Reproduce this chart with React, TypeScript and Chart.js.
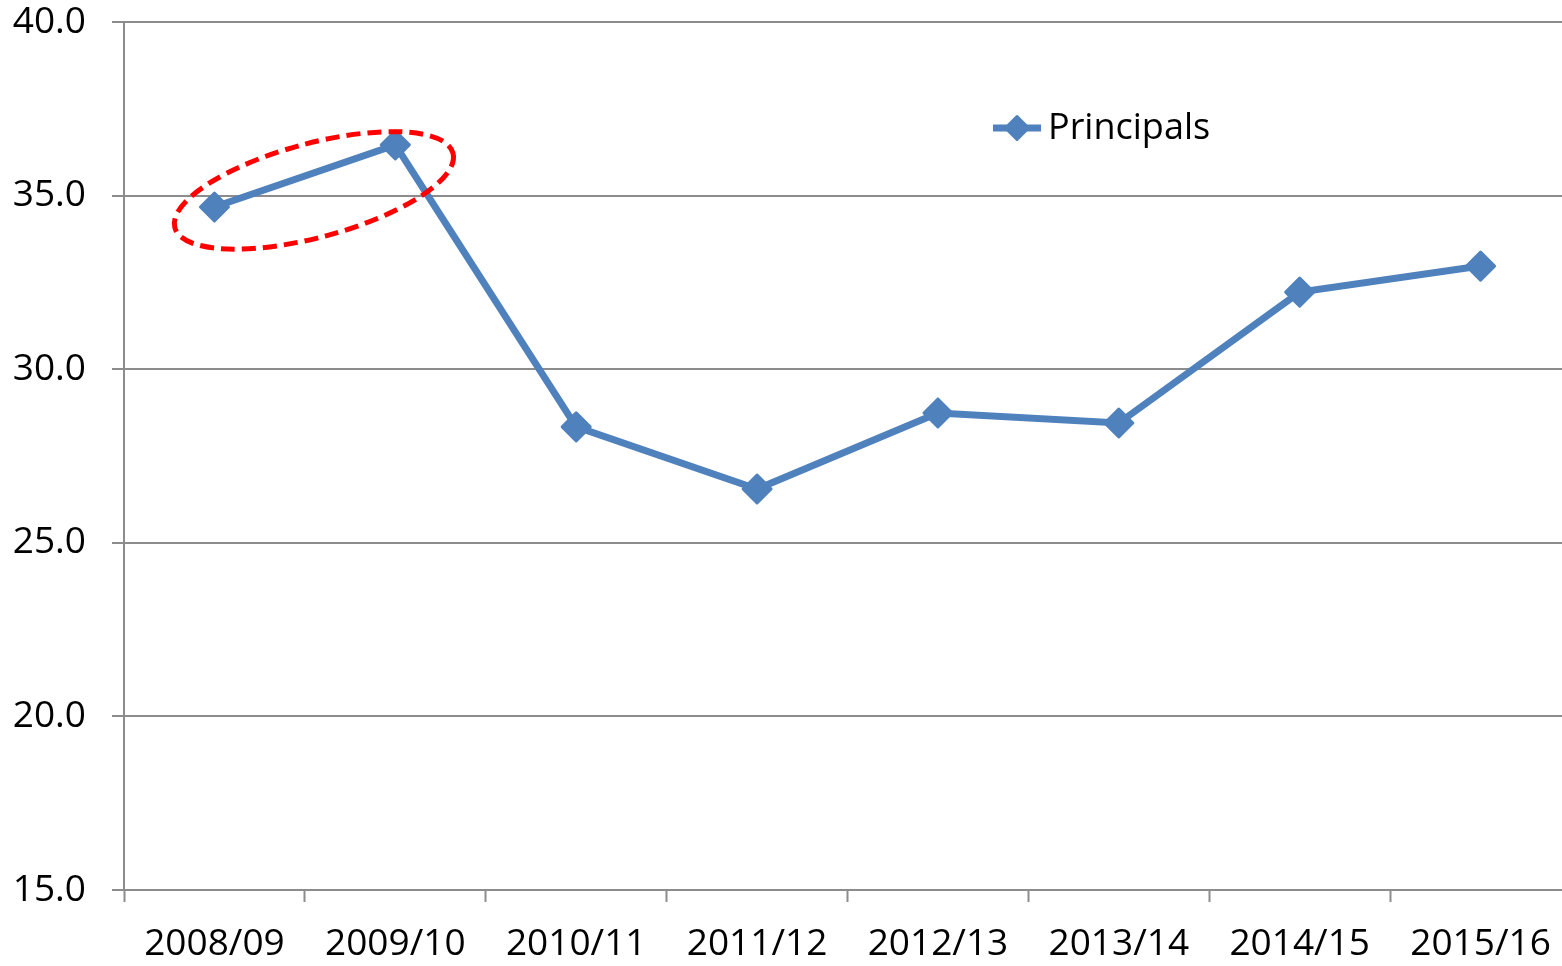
import React, { useEffect, useRef } from "react";
import { Chart, registerables } from "chart.js";

Chart.register(...registerables);

const categories = ["2008/09", "2009/10", "2010/11", "2011/12", "2012/13", "2013/14", "2014/15", "2015/16"];
const principals = [34.67, 36.46, 28.34, 26.55, 28.74, 28.45, 32.22, 32.97];
const seriesLabel = "Principals";
const yMin = 15;
const yMax = 40;
const yStep = 5;

const BLUE = "#4F81BD";
const GRID = "#8C8C8C";
const FONT = "'Open Sans', 'DejaVu Sans', sans-serif";
const FONT_SIZE = 37;

const roundJoinPlugin = {
  id: "roundJoin",
  beforeDatasetDraw(chart: any) {
    chart.ctx.lineJoin = "round";
  },
  afterDatasetDraw(chart: any) {
    chart.ctx.lineJoin = "miter";
  },
};

// red dashed ellipse highlighting the first two years
const highlightPlugin = {
  id: "highlight",
  afterDatasetsDraw(chart: any) {
    const { ctx, scales } = chart;
    const cx = scales.x.getPixelForValue(0.55);
    const cy = scales.y.getPixelForValue(35.15);
    ctx.save();
    ctx.beginPath();
    ctx.ellipse(cx, cy, 144, 47, (-15 * Math.PI) / 180, 0, Math.PI * 2);
    ctx.strokeStyle = "#FF0000";
    ctx.lineWidth = 5;
    ctx.setLineDash([14, 7]);
    ctx.stroke();
    ctx.restore();
  },
};

const legendPlugin = {
  id: "customLegend",
  afterDraw(chart: any) {
    const { ctx } = chart;
    const ds = chart.data.datasets[0];
    const y = 128;
    ctx.save();
    ctx.strokeStyle = ds.borderColor;
    ctx.lineWidth = 7;
    ctx.beginPath();
    ctx.moveTo(993, y);
    ctx.lineTo(1041, y);
    ctx.stroke();
    ctx.fillStyle = ds.borderColor;
    ctx.lineJoin = "round";
    ctx.lineWidth = 3;
    const r = 11.5;
    const x = 1017;
    ctx.beginPath();
    ctx.moveTo(x - r, y);
    ctx.lineTo(x, y - r);
    ctx.lineTo(x + r, y);
    ctx.lineTo(x, y + r);
    ctx.closePath();
    ctx.fill();
    ctx.stroke();
    ctx.fillStyle = "#000";
    ctx.font = `${FONT_SIZE - 1}px ${FONT}`;
    ctx.textAlign = "left";
    ctx.textBaseline = "middle";
    ctx.fillText(ds.label, 1048, y + 1);
    ctx.restore();
  },
};

export default function App() {
  const ref = useRef<HTMLCanvasElement | null>(null);

  useEffect(() => {
    if (!ref.current) return;
    const chart = new Chart(ref.current, {
      type: "line",
      data: {
        labels: categories,
        datasets: [
          {
            label: seriesLabel,
            data: principals,
            borderColor: BLUE,
            backgroundColor: BLUE,
            borderWidth: 7,
            pointStyle: "rectRot",
            pointRadius: 14,
            pointBorderWidth: 3,
            pointBackgroundColor: BLUE,
            pointBorderColor: BLUE,
            tension: 0,
            fill: false,
          },
        ],
      },
      options: {
        responsive: false,
        animation: false,
        layout: { autoPadding: false, padding: { top: 0, right: 0, left: 0, bottom: 0 } },
        plugins: {
          legend: { display: false },
          tooltip: { enabled: false },
        },
        scales: {
          x: {
            offset: true,
            grid: {
              offset: true,
              display: true,
              drawOnChartArea: false,
              drawTicks: true,
              tickLength: 12,
              tickWidth: 2,
              tickColor: GRID,
            },
            border: { display: true, color: GRID, width: 2 },
            ticks: {
              color: "#000",
              font: { family: FONT, size: FONT_SIZE },
              padding: 20,
              maxRotation: 0,
              autoSkip: false,
            },
            afterFit(scale: any) {
              scale.height = 76;
            },
          },
          y: {
            min: yMin,
            max: yMax,
            grid: {
              color: GRID,
              lineWidth: 2,
              tickLength: 12,
              tickColor: GRID,
              tickWidth: 2,
            },
            border: { display: true, color: GRID, width: 2 },
            ticks: {
              stepSize: yStep,
              color: "#000",
              font: { family: FONT, size: FONT_SIZE },
              padding: 26,
              callback: (v: any) => Number(v).toFixed(1),
            },
            afterFit(scale: any) {
              scale.width = 124;
              scale.paddingTop = 22;
              scale.paddingBottom = 22;
            },
          },
        },
      },
      plugins: [roundJoinPlugin, highlightPlugin, legendPlugin],
    });
    return () => chart.destroy();
  }, []);

  return (
    <div
      style={{
        position: "fixed",
        left: 0,
        top: 0,
        width: 1562,
        height: 966,
        overflow: "hidden",
        background: "#fff",
      }}
    >
      <canvas ref={ref} width={1571} height={966} style={{ display: "block" }} />
    </div>
  );
}
